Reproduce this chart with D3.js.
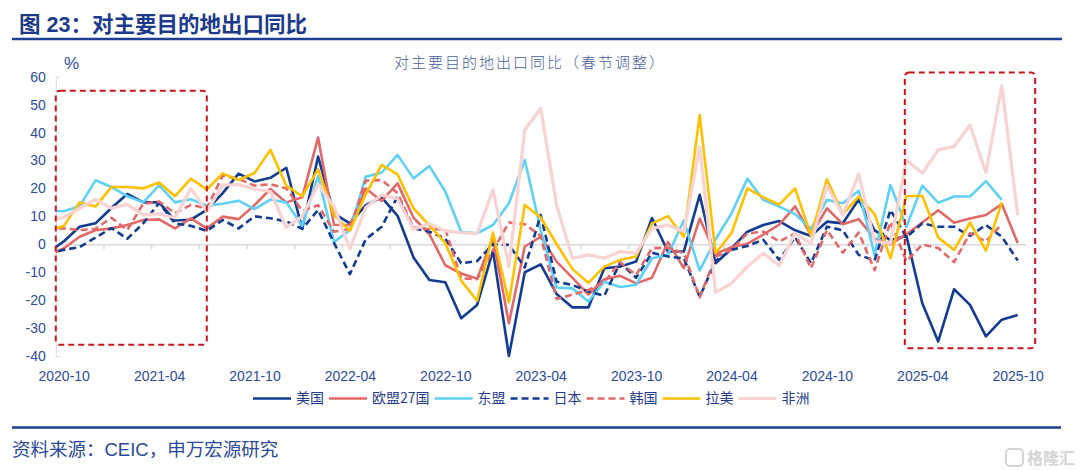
<!DOCTYPE html>
<html lang="zh">
<head>
<meta charset="UTF-8">
<title>对主要目的地出口同比</title>
<script src="https://cdnjs.cloudflare.com/ajax/libs/d3/7.8.5/d3.min.js"></script>
<style>
  body { margin: 0; background: #fff; }
  svg { display: block; font-family: "Liberation Sans", Arial, "Noto Sans CJK SC", sans-serif; }
  .axis text { fill: #2b4c9c; font-size: 14px; }
  .axis path, .axis line { stroke: #d9d9d9; }
  .legend text { fill: #1f3d8c; font-size: 14px; font-family: "Noto Sans CJK SC", sans-serif; }
</style>
</head>
<body>
<svg id="chart" width="1080" height="470"></svg>
<script>
// months on the axis; 2020-09 only feeds the clipped first segment
const months = [
  "2020-09","2020-10","2020-11","2020-12",
  "2021-01","2021-02","2021-03","2021-04","2021-05","2021-06","2021-07","2021-08","2021-09","2021-10","2021-11","2021-12",
  "2022-01","2022-02","2022-03","2022-04","2022-05","2022-06","2022-07","2022-08","2022-09","2022-10","2022-11","2022-12",
  "2023-01","2023-02","2023-03","2023-04","2023-05","2023-06","2023-07","2023-08","2023-09","2023-10","2023-11","2023-12",
  "2024-01","2024-02","2024-03","2024-04","2024-05","2024-06","2024-07","2024-08","2024-09","2024-10","2024-11","2024-12",
  "2025-01","2025-02","2025-03","2025-04","2025-05","2025-06","2025-07","2025-08","2025-09","2025-10"
];
const tickLabels = ["2020-10","2021-04","2021-10","2022-04","2022-10","2023-04","2023-10","2024-04","2024-10","2025-04","2025-10"];
const yTicks = [-40, -30, -20, -10, 0, 10, 20, 30, 40, 50, 60];

// 同比 %
const us = [-3, 1, 6.3, 7.5, 13, 18, 15, 15, 8.5, 8.8, 12.3, 18.3, 25.3, 22.5, 23.8, 27.4, 5.5, 31.4, 11, 7.5, 14,
  16.8, 10.2, -4.7, -12.8, -13.6, -26.5, -21.7, -2.3, -40, -10, -7.2, -17.8, -22.6, -22.6, -8.6, -8, -6.2, 9.4, -2.6, -2.6,
  17.7, -6.8, -1.5, 4.5, 6.9, 8.3, 5, 3, 8.1, 7.5, 16, 5, 1.5, 3, -21.1, -34.8, -16.1, -21.7, -33, -27, -25.3];
const eu = [-4, -1.5, 2.7, 5, 5.7, 6.9, 8.7, 8.9, 5.7, 9.3, 5.7, 9.9, 9, 14, 19.8, 15, 16.8, 38.2, 7, 6.9, 20,
  15.5, 21.8, 9.5, 3.6, -7.5, -10.5, -12.3, 2.3, -28.3, -0.8, 2.7, -6.2, -12, -18, -12.5, -11.3, -14, -12, 0.8, -8.5,
  9.2, -3.5, -1, 0.2, 3.5, 7, 13.6, 3.3, 12.9, 7.2, 9, 2, 0, 3.6, 7.8, 12.2, 7.7, 9.2, 10.5, 14.4, 0.5];
const asean = [12, 11.8, 13.6, 22.9, 20.5, 17.2, 15, 21.1, 15, 16.1, 13.8, 14.5, 15.6, 12.6, 16, 15, 6.6, 24.4, 0.8, 5, 24.2,
  25.7, 32, 23.6, 28, 18.9, 4.5, 3.9, 6.9, 14.7, 30.2, 5, -15.5, -15.8, -20.5, -13.4, -15.3, -14.5, -5, -3.8, 8.5,
  -9.4, 1.8, 11, 23.5, 15.9, 13.5, 10.8, 5.5, 15.9, 14.7, 19.2, -3.8, 21.2, 6.3, 21, 14.9, 17.1, 17.1, 22.6, 15.9, null];
const japan = [-3.5, -2, -1, 2.4, 5.8, 2, 7.5, 14.8, 7.5, 6.6, 4.8, 8.7, 5.7, 10, 9.3, 8.2, 5.5, 12.3, 0.5, -10.7, 1.8,
  6.3, 17.1, 5.7, 4.5, 2, -6.8, -6, 0, -0.2, -8.3, 10.5, -13.4, -14.6, -16.9, -18.4, -6.5, -12, -3, -4.4, -5,
  -18.8, -6, -2, -0.6, 1.6, -5.6, 2.5, -6.8, 6.3, 5, -3.8, -5.8, 12.3, 2.5, 7.5, 6.3, 6.3, 3, 6.9, 2.7, -5.8];
const korea = [5.7, 5.7, 5.1, 5.5, 9.5, 5.1, 14.5, 15.3, 11.1, 14.1, 12.9, 24.6, 23.4, 21, 21.5, 20, 12, 14, 4.5, 5.5, 22.8,
  23, 18.3, 6, 5.4, 5.4, -12.2, -12.5, -2.3, 7.8, 7.2, 3, -19.6, -18, -16.4, -13.5, -6.5, -11, -1.4, -1.2, -3.2,
  -19, -4.4, -2, 3.9, 4.5, 1, 3.9, -8.6, 5.1, -3, 4.2, -9.3, 8, -6, -0.1, -1.3, -6.4, 4, 1, 7.2, null];
const latam = [5, 6.5, 15, 13.5, 20.5, 20.5, 20, 22.1, 17.2, 23.5, 19.6, 25.4, 23, 25.5, 33.8, 21, 17.2, 26.8, 10.5, 4.8, 18,
  28.4, 25, 12.9, 6.8, 0.4, -13, -20.2, 4.2, -20.8, 14.1, 9.6, 0.1, -8.9, -13.8, -8, -5.6, -4.4, 7.5, 10.1, 2.7,
  46.3, -3.2, 4, 20, 16.8, 14.2, 20, 3, 23.3, 10.8, 17.1, 10.8, -5, 17.2, 17.4, 2.4, -2, 7.8, -2.3, 15, null];
const africa = [8.5, 9.6, 12.9, 16.1, 12.9, 14.3, 10.5, 10.9, 9.5, 20, 11.7, 21.2, 21.4, 19.7, 18.9, 6, 10, 21.5, 13.5, -1.7, 13.2,
  17.7, 16.3, 5.4, 7.4, 4.8, 4.2, 3.8, 19.5, -8, 40.9, 48.7, 14, -5, -3.8, -5, -2.6, -3.2, 5.7, 6.9, 4.5,
  34.8, -17.2, -14, -8, -3.2, -7.6, 4, 0.2, 21, 10.5, 25.2, 1, 0.4, 30.2, 25.4, 33.8, 35, 42.7, 25.7, 56.7, 10.5];

const series = [
  { name: "美国",     values: us,     color: "#123c92", dash: null,  width: 2.6 },
  { name: "欧盟27国", values: eu,     color: "#e36868", dash: null,  width: 2.6 },
  { name: "东盟",     values: asean,  color: "#5fd0f6", dash: null,  width: 2.6 },
  { name: "日本",     values: japan,  color: "#123c92", dash: "7,4", width: 2.6 },
  { name: "韩国",     values: korea,  color: "#e36868", dash: "7,4", width: 2.6 },
  { name: "拉美",     values: latam,  color: "#ffc000", dash: null,  width: 2.6 },
  { name: "非洲",     values: africa, color: "#f9d2d2", dash: null,  width: 3.2 }
];

const svg = d3.select("#chart");

const x = d3.scaleLinear().domain([0.5, months.length - 0.5]).range([55.75, 1025.65]);
const y = d3.scaleLinear().domain([-40, 60]).range([356, 76.7]);

// header
svg.append("text")
  .attr("x", 19).attr("y", 31.5)
  .attr("font-size", 21.5).attr("font-weight", "bold")
  .attr("fill", "#1b3a8c")
  .text("图 23：对主要目的地出口同比");
svg.append("line")
  .attr("x1", 12).attr("x2", 1062).attr("y1", 39).attr("y2", 39)
  .attr("stroke", "#1e3e94").attr("stroke-width", 2.5);

svg.append("text")
  .attr("x", 530).attr("y", 68)
  .attr("text-anchor", "middle")
  .attr("font-size", 15).attr("letter-spacing", 2)
  .attr("font-family", "Noto Sans CJK SC, sans-serif")
  .attr("font-weight", 300)
  .attr("fill", "#4a5e9a")
  .text("对主要目的地出口同比（春节调整）");

svg.append("text")
  .attr("x", 64).attr("y", 69)
  .attr("font-size", 17).attr("fill", "#2b4c9c")
  .text("%");

// y axis
svg.append("g")
  .attr("class", "axis")
  .attr("transform", `translate(${x(0.5)},0)`)
  .call(d3.axisLeft(y).tickValues(yTicks).tickFormat(d => String(d))
    .tickSizeInner(-4).tickSizeOuter(0).tickPadding(10));

// zero line with quarter ticks
const quarterTicks = d3.range(0.5, months.length - 1, 3);
svg.append("g")
  .attr("class", "axis")
  .attr("transform", `translate(0,${y(0)})`)
  .call(d3.axisBottom(x).tickValues(quarterTicks).tickFormat("")
    .tickSizeInner(5).tickSizeOuter(0))
  .call(g => g.selectAll("path, line").attr("stroke-width", 1.5));

// month labels along the bottom
svg.append("g")
  .attr("class", "axis")
  .attr("transform", `translate(0,${y(-40)})`)
  .call(d3.axisBottom(x).tickValues(tickLabels.map(t => months.indexOf(t)))
    .tickFormat(i => months[i]).tickSize(0).tickPadding(15))
  .call(g => g.select(".domain").remove());

// lines
svg.append("clipPath").attr("id", "plot-clip")
  .append("rect")
  .attr("x", x(0.5)).attr("y", 0)
  .attr("width", x(months.length - 0.5) - x(0.5)).attr("height", 470);

const line = d3.line()
  .defined(d => d != null)
  .x((d, i) => x(i))
  .y(d => y(d));

svg.append("g")
  .attr("clip-path", "url(#plot-clip)")
  .selectAll("path")
  .data(series)
  .join("path")
  .attr("fill", "none")
  .attr("stroke", d => d.color)
  .attr("stroke-width", d => d.width)
  .attr("stroke-dasharray", d => d.dash)
  .attr("stroke-linejoin", "round")
  .attr("d", d => line(d.values));

// highlight boxes
const boxes = [
  { from: 0.5, to: 10, top: 55, bottom: -36 },
  { from: 53.9, to: 62.1, top: 61.5, bottom: -37.2 }
];
svg.selectAll(".box")
  .data(boxes)
  .join("rect")
  .attr("class", "box")
  .attr("x", d => x(d.from)).attr("y", d => y(d.top))
  .attr("width", d => x(d.to) - x(d.from))
  .attr("height", d => y(d.bottom) - y(d.top))
  .attr("rx", 4)
  .attr("fill", "none")
  .attr("stroke", "#c8161d")
  .attr("stroke-width", 2)
  .attr("stroke-dasharray", "6,4");

// legend
const legend = svg.append("g").attr("class", "legend").attr("transform", "translate(253,398.5)");
let lx = 0;
series.forEach(s => {
  legend.append("line")
    .attr("x1", lx).attr("x2", lx + 38)
    .attr("stroke", s.color).attr("stroke-width", s.width)
    .attr("stroke-dasharray", s.dash);
  const t = legend.append("text")
    .attr("x", lx + 43).attr("dy", "0.35em")
    .text(s.name);
  lx += 43 + t.node().getComputedTextLength() + 5;
});

// footer
svg.append("line")
  .attr("x1", 12).attr("x2", 1061).attr("y1", 427.5).attr("y2", 427.5)
  .attr("stroke", "#1e3e94").attr("stroke-width", 2.5);
svg.append("text")
  .attr("x", 12).attr("y", 456)
  .attr("font-size", 18.5).attr("fill", "#2a4a9a")
  .text("资料来源：CEIC，申万宏源研究");

// watermark
svg.append("rect")
  .attr("x", 1006).attr("y", 449).attr("width", 17).attr("height", 17).attr("rx", 4)
  .attr("fill", "none").attr("stroke", "#d4d4d4").attr("stroke-width", 2);
svg.append("text")
  .attr("x", 1027).attr("y", 464)
  .attr("font-size", 16).attr("font-weight", "bold")
  .attr("font-family", "Noto Sans CJK SC, sans-serif")
  .attr("fill", "#d4d4d4")
  .text("格隆汇");
</script>
</body>
</html>
